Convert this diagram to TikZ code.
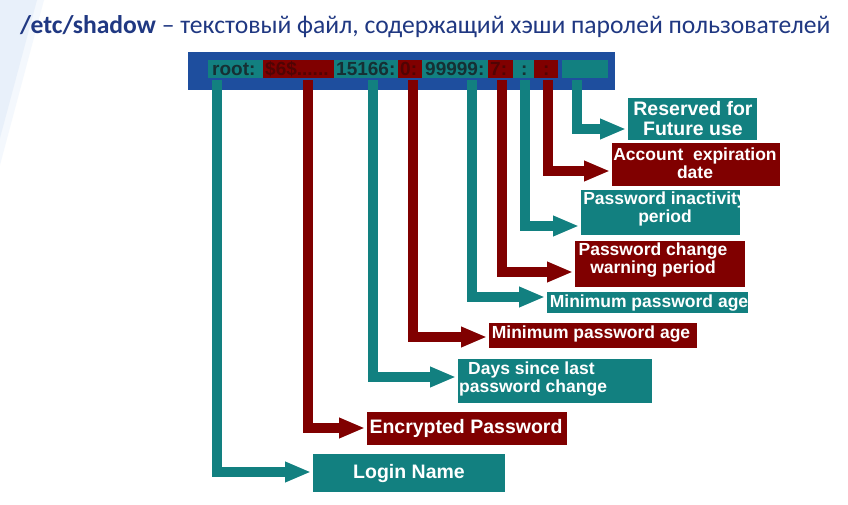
\documentclass[tikz,border=0pt]{standalone}
\usepackage{fontspec}
\setmainfont{Carlito}
\newfontfamily\arl{Liberation Sans}
\usetikzlibrary{arrows.meta}
\definecolor{tl}{RGB}{18,128,128}
\definecolor{dr}{RGB}{128,0,0}
\definecolor{bb}{RGB}{30,78,158}
\definecolor{tt}{RGB}{32,56,130}
\definecolor{deco}{RGB}{232,240,250}
\definecolor{decob}{RGB}{244,248,253}
\definecolor{ontl}{RGB}{22,48,52}
\definecolor{ondr}{RGB}{80,4,4}
\begin{document}
\begin{tikzpicture}[x=1pt,y=-1pt,
  conn/.style={line width=10pt, -{Triangle[length=26pt,width=19pt]}, line join=miter, shorten >=2pt},
  fld/.style={inner sep=0pt, outer sep=0pt, minimum height=18pt, anchor=west},
  bxs/.style={inner sep=0pt, outer sep=0pt},
  bartext/.style={inner sep=0pt, anchor=base west, font=\arl\bfseries\fontsize{19}{19}\selectfont},
  lbl/.style={inner sep=0pt, text=white, align=center, font=\arl\bfseries\fontsize{17.5}{17.5}\selectfont},
  lblb/.style={inner sep=0pt, text=white, align=center, font=\arl\bfseries\fontsize{19.5}{20}\selectfont}
]
\useasboundingbox (0,0) rectangle (848,504);
\fill[white] (0,0) rectangle (848,504);
% decoration
\fill[decob] (0,0) -- (44,0) -- (0,165) -- cycle;
\fill[deco] (0,0) -- (37,0) -- (0,138) -- cycle;
% title
\node[anchor=base west, text=tt, inner sep=0pt, font=\fontsize{25.6}{28}\selectfont] (title) at (20,33)
  {\textbf{/etc/shadow} – текстовый файл, содержащий хэши паролей пользователей};
% bar
\fill[bb] (188,52) rectangle (615,90);
\node[fld, fill=tl, minimum width=55pt] (f1) at (208,69) {};
\node[fld, fill=dr, minimum width=71pt] (f2) at (263,69) {};
\node[fld, fill=tl, minimum width=64pt] (f3) at (334,69) {};
\node[fld, fill=dr, minimum width=24pt] (f4) at (398,69) {};
\node[fld, fill=tl, minimum width=66pt] (f5) at (422,69) {};
\node[fld, fill=dr, minimum width=25pt] (f6) at (488,69) {};
\node[fld, fill=tl, minimum width=21pt] (f7) at (513,69) {};
\node[fld, fill=dr, minimum width=24pt] (f8) at (534,69) {};
\node[fld, fill=tl, minimum width=46pt] (f9) at (562,69) {};
\node[bartext, text=ontl] (t1) at (212,75) {root:};
\node[bartext, text=ondr] (t2) at (265,75) {\$6\$......};
\node[bartext, text=ontl] (t3) at (336,75) {15166:};
\node[bartext, text=ondr] (t4) at (400,75) {0:};
\node[bartext, text=ontl] (t5) at (425,75) {99999:};
\node[bartext, text=ondr] (t6) at (490,75) {7:};
\node[bartext, text=ontl] (t7) at (521,75) {:};
\node[bartext, text=ondr] (t8) at (543,75) {:};
% start points
\coordinate (s1) at (217,80);
\coordinate (s2) at (308,80);
\coordinate (s3) at (373,80);
\coordinate (s4) at (413,80);
\coordinate (s5) at (472,80);
\coordinate (s6) at (502,80);
\coordinate (s7) at (525,80);
\coordinate (s8) at (548,80);
\coordinate (s9) at (577,80);
% boxes
\node[bxs, fill=tl, minimum width=192pt, minimum height=38pt] (b1) at (409,473) {};
\node[bxs, fill=dr, minimum width=200pt, minimum height=33pt] (b2) at (467,428.5) {};
\node[bxs, fill=tl, minimum width=194pt, minimum height=44pt] (b3) at (555,381) {};
\node[bxs, fill=dr, minimum width=208pt, minimum height=25pt] (b4) at (593,335.5) {};
\node[bxs, fill=tl, minimum width=201pt, minimum height=21pt] (b5) at (647.5,302.5) {};
\node[bxs, fill=dr, minimum width=170pt, minimum height=46pt] (b6) at (660,264) {};
\node[bxs, fill=tl, minimum width=159pt, minimum height=45pt] (b7) at (660.5,212.5) {};
\node[bxs, fill=dr, minimum width=168pt, minimum height=43pt] (b8) at (696,164.5) {};
\node[bxs, fill=tl, minimum width=129pt, minimum height=42pt] (b9) at (692.5,119) {};
% connectors
\draw[conn, tl] (s1) |- ([yshift=1pt]b1.west);
\draw[conn, dr] (s2) |- ([yshift=0.5pt]b2.west);
\draw[conn, tl] (s3) |- ([yshift=4pt]b3.west);
\draw[conn, dr] (s4) |- ([yshift=-1.5pt]b4.west);
\draw[conn, tl] (s5) |- ([yshift=5.5pt]b5.west);
\draw[conn, dr] (s6) |- ([yshift=-8pt]b6.west);
\draw[conn, tl] (s7) |- ([yshift=-13.5pt]b7.west);
\draw[conn, dr] (s8) |- ([yshift=-6.5pt]b8.west);
\draw[conn, tl] (s9) |- ([yshift=-10pt]b9.west);
% labels
\node[lblb] (l1) at (409,473) {Login Name};
\node[lblb] (l2) at (466,428) {Encrypted Password};
\node[lbl, align=left, anchor=west] (l3) at (459,379) {\hspace*{9pt}Days since last\\password change};
\node[lbl] (l4) at (591,334) {Minimum password age};
\node[lbl] (l5) at (649,303) {Minimum password age};
\node[lbl] (l6) at (653,260) {Password change\\warning period};
\node[lbl] (l7) at (665,209) {Password inactivity\\period};
\node[lbl] (l8) at (695,163) {Account\ \ expiration\\date};
\node[lblb] (l9) at (693,119) {Reserved for\\Future use};
\end{tikzpicture}
\end{document}
